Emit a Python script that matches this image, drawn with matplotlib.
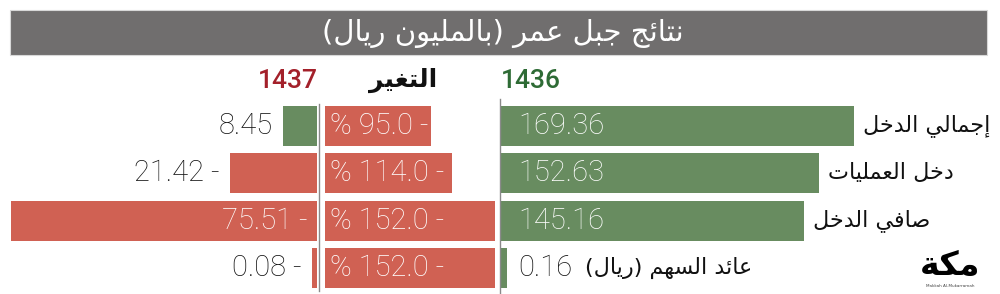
import matplotlib.pyplot as plt
from matplotlib.patches import Rectangle
from matplotlib.lines import Line2D

# data
categories = ['إجمالي الدخل', 'دخل العمليات', 'صافي الدخل', 'عائد السهم (ريال)']
values_1436 = [169.36, 152.63, 145.16, 0.16]
values_1437 = [8.45, -21.42, -75.51, -0.08]
change_pct = [-95.0, -114.0, -152.0, -152.0]
title = 'نتائج جبل عمر (بالمليون ريال)'
headers = ['1437', 'التغير', '1436']

GREEN = '#688c60'
RED = '#d06153'
AR_FONT = ['DejaVu Sans']
NUM_FONT = ['Roboto', 'DejaVu Sans']

# minimal arabic shaping (matplotlib has no RTL / joining support)
_letters = 'ءآأؤإئابةتثجحخدذرزسشصضطظعغفقكلمنهوىي'
_counts = [1, 2, 2, 2, 2, 4, 2, 4, 2, 4, 4, 4, 4, 4, 2, 2, 2, 2, 4, 4,
           4, 4, 4, 4, 4, 4, 4, 4, 4, 4, 4, 4, 4, 2, 2, 4]
FORMS = {}
_cp = 0xFE80
for ch, n in zip(_letters, _counts):
    FORMS[ch] = (_cp, n)
    _cp += n


def shape(text):
    """Return arabic text in presentation forms, visual (left to right) order."""
    out = []
    for i, ch in enumerate(text):
        if ch not in FORMS:
            out.append(ch)
            continue
        start, n = FORMS[ch]
        prev = text[i - 1] if i > 0 else ''
        nxt = text[i + 1] if i + 1 < len(text) else ''
        join_prev = prev in FORMS and FORMS[prev][1] == 4 and n > 1
        join_next = n == 4 and nxt in FORMS and FORMS[nxt][1] > 1
        if join_prev and join_next:
            k = 3
        elif join_prev:
            k = 1
        elif join_next:
            k = 2
        else:
            k = 0
        out.append(chr(start + k))
    vis = ''.join(reversed(out))
    return vis.translate(str.maketrans('()', ')('))


W, H = 1000, 294
fig = plt.figure(figsize=(W / 100, H / 100), dpi=100)


def px_axes(x0, y0, x1, y1):
    ax = fig.add_axes([x0 / W, 1 - y1 / H, (x1 - x0) / W, (y1 - y0) / H])
    ax.set_axis_off()
    ax.set_ylim(3.5, -0.5)
    return ax


rows = range(len(categories))
bar_h = 0.84

# title bar
fig.add_artist(Rectangle((10 / W, 1 - 55 / H), 977 / W, 45 / H,
                         transform=fig.transFigure, facecolor='#706e6e',
                         edgecolor='#d8d8d8', lw=0.8))
fig.text(503 / W, 1 - 33 / H, shape(title), color='white', fontsize=21,
         family=AR_FONT, ha='center', va='center')

# column headers
fig.text(288 / W, 1 - 81 / H, headers[0], color='#a3202a', fontsize=19,
         family=NUM_FONT, ha='center', va='center', fontweight='medium')
fig.text(403 / W, 1 - 80 / H, shape(headers[1]), color='#111111', fontsize=18,
         family=AR_FONT, ha='center', va='center', fontweight='bold')
fig.text(531 / W, 1 - 81 / H, headers[2], color='#2e6b35', fontsize=19,
         family=NUM_FONT, ha='center', va='center', fontweight='medium')

# 1437 column (grows to the left)
ax_l = px_axes(0, 102, 317, 292)
ax_l.set_xlim(317 / 4.05, 0)
for i in rows:
    v = values_1437[i]
    w = max(abs(v), 1.2)
    ax_l.barh(i, w, height=bar_h, color=GREEN if v > 0 else RED)
    lab = f'{v:.2f}' if v > 0 else f'{abs(v):.2f} -'
    if w > 50:
        ax_l.text(2.2, i, lab, ha='right', va='center', color='white',
                  fontsize=21, family=NUM_FONT, fontweight='light')
    else:
        ax_l.text(w + 2.5, i, lab, ha='right', va='center', color='#111111',
                  fontsize=21, family=NUM_FONT, fontweight='light')

# change column
ax_m = px_axes(325, 102, 500, 292)
ax_m.set_xlim(0, 175 / 1.118)
for i in rows:
    v = change_pct[i]
    ax_m.barh(i, abs(v), height=bar_h, color=RED)
    ax_m.text(4.5, i, f'% {abs(v):.1f} -', ha='left', va='center',
              color='white', fontsize=21, family=NUM_FONT, fontweight='light')

# 1436 column
ax_r = px_axes(501, 102, 1000, 292)
ax_r.set_xlim(0, 499 / 2.085)
for i in rows:
    v = values_1436[i]
    w = max(v, 2.8)
    ax_r.barh(i, w, height=bar_h, color=GREEN)
    inside = w > 20
    ax_r.text(8.2, i, f'{v:.2f}', ha='left', va='center',
              color='white' if inside else '#111111', fontsize=21,
              family=NUM_FONT, fontweight='light')
    cx = w + 4.3 if inside else 40.3
    ax_r.text(cx, i, shape(categories[i]), ha='left', va='center',
              color='#111111', fontsize=16, family=AR_FONT)

# separators
fig.add_artist(Line2D([319 / W, 319 / W], [1 - 104 / H, 1 - 291 / H],
                      color='#8a8a8a', lw=1))
fig.add_artist(Line2D([500 / W, 500 / W], [1 - 99 / H, 1 - 294 / H],
                      color='#8a8a8a', lw=1))

# logo
fig.text(950 / W, 1 - 265 / H, shape('مكة'), color='black', fontsize=24,
         family=AR_FONT, fontweight='bold', ha='center', va='center')
fig.text(950 / W, 1 - 286 / H, 'Makkah Al-Mukarramah', color='#444444',
         fontsize=3, ha='center', va='center')

fig.savefig('out.png', dpi=100, facecolor='white')
